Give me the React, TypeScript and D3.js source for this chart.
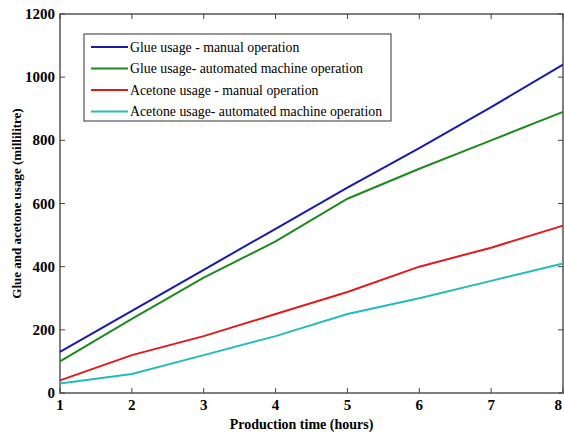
import { useEffect, useRef } from "react";
import * as d3 from "d3";

const hours = [1, 2, 3, 4, 5, 6, 7, 8];
const glueManual = [130, 260, 390, 520, 650, 775, 905, 1040];
const glueAuto = [100, 235, 365, 480, 615, 710, 800, 890];
const acetoneManual = [40, 120, 180, 250, 320, 400, 460, 530];
const acetoneAuto = [30, 60, 120, 180, 250, 300, 355, 410];
const yTicks = [0, 200, 400, 600, 800, 1000, 1200];

const series = [
  { name: "Glue usage - manual operation", values: glueManual, color: "#1a1aa8" },
  { name: "Glue usage- automated machine operation", values: glueAuto, color: "#1e8a1e" },
  { name: "Acetone usage - manual operation", values: acetoneManual, color: "#e01b1b" },
  { name: "Acetone usage- automated machine operation", values: acetoneAuto, color: "#22bcbc" },
];

const FONT = "'Liberation Serif', 'DejaVu Serif', serif";

const App = () => {
  const ref = useRef<SVGSVGElement>(null);

  useEffect(() => {
    if (!ref.current) return;
    const svg = d3.select(ref.current);
    svg.selectAll("*").remove();

    const margin = { top: 14, right: 1, bottom: 41, left: 60 };
    const width = 564 - margin.left - margin.right;
    const height = 434 - margin.top - margin.bottom;

    const x = d3.scaleLinear().domain([1, 8]).range([0, width]);
    const y = d3.scaleLinear().domain([0, 1200]).range([height, 0]);

    const g = svg.append("g").attr("transform", `translate(${margin.left},${margin.top})`);

    // box
    g.append("rect")
      .attr("width", width)
      .attr("height", height)
      .attr("fill", "white")
      .attr("stroke", "#555")
      .attr("stroke-width", 1.5);

    // inward ticks on all four sides
    const tl = 5;
    hours.forEach((h, i) => {
      g.append("line").attr("x1", x(h)).attr("x2", x(h)).attr("y1", height).attr("y2", height - tl).attr("stroke", "#444");
      g.append("line").attr("x1", x(h)).attr("x2", x(h)).attr("y1", 0).attr("y2", tl).attr("stroke", "#444");
      const last = i === hours.length - 1;
      g.append("text")
        .attr("x", last ? x(h) - 1 : x(h))
        .attr("y", height + 17)
        .attr("text-anchor", last ? "end" : "middle")
        .style("font-family", FONT)
        .attr("font-size", 15)
        .attr("font-weight", "bold")
        .text(h);
    });
    yTicks.forEach((t) => {
      g.append("line").attr("x1", 0).attr("x2", tl).attr("y1", y(t)).attr("y2", y(t)).attr("stroke", "#444");
      g.append("line").attr("x1", width).attr("x2", width - tl).attr("y1", y(t)).attr("y2", y(t)).attr("stroke", "#444");
      g.append("text")
        .attr("x", -5)
        .attr("y", y(t) + 5)
        .attr("text-anchor", "end")
        .style("font-family", FONT)
        .attr("font-size", 15)
        .attr("font-weight", "bold")
        .text(t);
    });

    const line = d3
      .line<number>()
      .x((_, i) => x(hours[i]))
      .y((d) => y(d));

    series.forEach((s) => {
      g.append("path")
        .datum(s.values)
        .attr("d", line)
        .attr("fill", "none")
        .attr("stroke", s.color)
        .attr("stroke-width", 2);
    });

    // legend
    const lg = svg.append("g").attr("transform", "translate(84,34)");
    lg.append("rect")
      .attr("width", 307)
      .attr("height", 87)
      .attr("fill", "white")
      .attr("stroke", "#333")
      .attr("stroke-width", 1);
    series.forEach((s, i) => {
      const yy = 13 + i * 21.5;
      lg.append("line").attr("x1", 7).attr("x2", 44).attr("y1", yy).attr("y2", yy).attr("stroke", s.color).attr("stroke-width", 2);
      lg.append("text")
        .attr("x", 46)
        .attr("y", yy + 4.5)
        .style("font-family", FONT)
        .attr("font-size", 13.8)
        .text(s.name);
    });

    // axis labels
    svg.append("text")
      .attr("x", margin.left + width / 2 - 10)
      .attr("y", 429)
      .attr("text-anchor", "middle")
      .style("font-family", FONT)
      .attr("font-size", 14)
      .attr("font-weight", "bold")
      .text("Production time (hours)");
    svg.append("text")
      .attr("transform", `translate(21,${margin.top + height / 2}) rotate(-90)`)
      .attr("text-anchor", "middle")
      .style("font-family", FONT)
      .attr("font-size", 13)
      .attr("font-weight", "bold")
      .text("Glue and acetone usage (millilitre)");
  }, []);

  return <svg ref={ref} width={564} height={434} style={{ position: "absolute", left: 0, top: 0 }} />;
};

export default App;
